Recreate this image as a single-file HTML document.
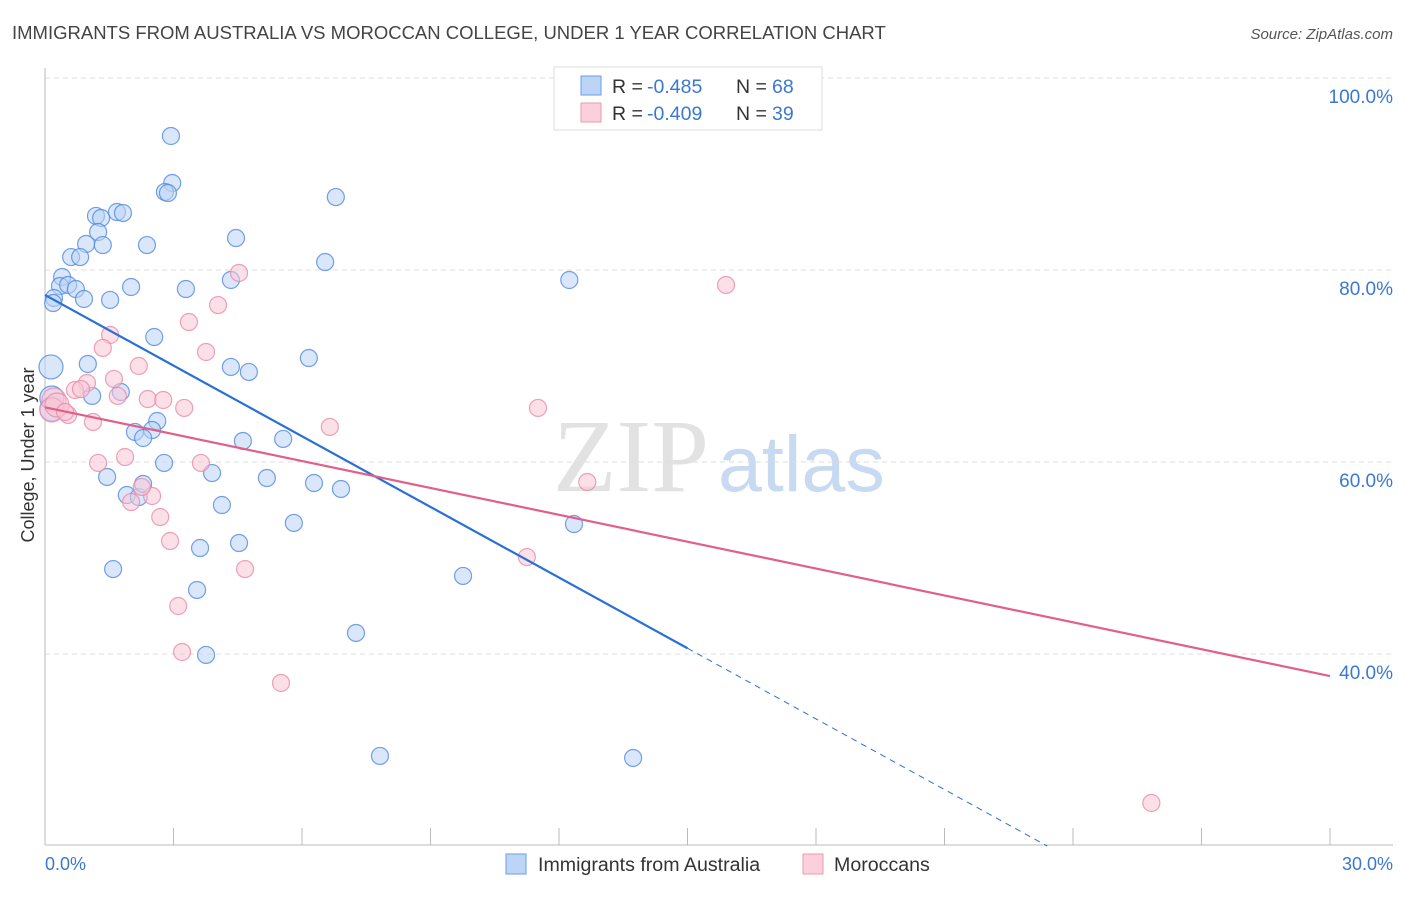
<!DOCTYPE html>
<html><head><meta charset="utf-8"><style>
body{margin:0;background:#fff;font-family:"Liberation Sans",sans-serif;}
svg text{font-family:"Liberation Sans",sans-serif;}
</style></head><body>
<svg id="chart" width="1406" height="892">
<text x="12" y="39" font-size="18.5" fill="#444">IMMIGRANTS FROM AUSTRALIA VS MOROCCAN COLLEGE, UNDER 1 YEAR CORRELATION CHART</text>
<text x="1393" y="39" font-size="15" fill="#555" font-style="italic" text-anchor="end">Source: ZipAtlas.com</text>
<text x="553" y="491" font-size="104" fill="#e2e2e2" style="font-family:'Liberation Serif',serif">ZIP</text>
<text x="718" y="491" font-size="79" fill="#c8daf2">atlas</text>
<g id="grid"></g>
<g id="axes"></g>
<g id="pts"></g>
<g id="lines"></g>
<text x="34" y="455" font-size="18" fill="#333" text-anchor="middle" transform="rotate(-90 34 455)">College, Under 1 year</text>
<text x="45" y="870" font-size="18" fill="#3a78d4">0.0%</text>
<text x="1393" y="870" font-size="18" fill="#3a78d4" text-anchor="end">30.0%</text>
<g>
<rect x="554" y="67" width="268" height="63" fill="#fff" stroke="#ddd"/>
<rect x="581" y="76" width="20" height="19" fill="#bcd4f5" stroke="#6a9ee6"/>
<rect x="581" y="103" width="20" height="19" fill="#fbcfdc" stroke="#ee99b4"/>
<text x="612" y="93" font-size="19.5" fill="#333">R =</text>
<text x="647" y="93" font-size="19.5" fill="#3a78d4">-0.485</text>
<text x="736" y="93" font-size="19.5" fill="#333">N =</text>
<text x="772" y="93" font-size="19.5" fill="#3a78d4">68</text>
<text x="612" y="120" font-size="19.5" fill="#333">R =</text>
<text x="647" y="120" font-size="19.5" fill="#3a78d4">-0.409</text>
<text x="736" y="120" font-size="19.5" fill="#333">N =</text>
<text x="772" y="120" font-size="19.5" fill="#3a78d4">39</text>
</g>
<g>
<rect x="506" y="854" width="20" height="20" fill="#bcd4f5" stroke="#6a9ee6"/>
<text x="538" y="871" font-size="19.6" fill="#333">Immigrants from Australia</text>
<rect x="803" y="854" width="20" height="20" fill="#fbcfdc" stroke="#ee99b4"/>
<text x="834" y="871" font-size="19.6" fill="#333">Moroccans</text>
</g>
</svg>
<script>
const blueX=[2.94,2.97,2.80,2.87,6.79,1.19,1.31,1.68,1.82,1.24,0.96,1.35,2.38,4.46,0.61,0.82,6.54,0.40,0.35,0.54,0.72,4.34,2.01,3.29,12.24,0.21,0.91,1.52,0.19,2.55,6.16,1.00,0.14,4.34,4.76,1.77,1.10,2.62,2.10,2.50,2.29,4.62,5.56,2.78,1.45,3.90,5.18,1.91,2.19,2.29,6.28,6.91,4.13,5.81,12.35,4.53,3.62,1.59,9.76,3.55,7.26,3.76,7.82,13.73,0.16,0.16];
const blueY=[93.96,89.06,88.13,88.02,87.60,85.63,85.42,86.04,85.94,83.96,82.71,82.60,82.60,83.33,81.35,81.35,80.83,79.27,78.33,78.44,78.02,78.96,78.23,78.02,78.96,77.08,76.98,76.88,76.56,73.02,70.83,70.21,69.90,69.90,69.38,67.29,66.88,64.27,63.13,63.33,62.50,62.19,62.40,59.90,58.44,58.85,58.33,56.56,56.35,57.71,57.81,57.19,55.52,53.65,53.54,51.56,51.04,48.85,48.13,46.67,42.19,39.90,29.38,29.17,65.52,66.67];
const pinkX=[4.53,15.90,4.04,3.36,1.52,1.35,3.76,2.19,0.98,1.61,0.70,0.84,1.70,2.40,2.76,3.25,11.51,0.21,0.16,0.54,1.12,6.65,1.24,1.87,3.64,2.50,2.01,2.26,2.69,2.92,12.66,11.25,4.67,3.11,3.20,5.51,25.83,0.28,0.47];
const pinkY=[79.69,78.44,76.35,74.58,73.23,71.88,71.46,70.00,68.23,68.65,67.50,67.60,66.88,66.56,66.46,65.63,65.63,66.46,65.42,64.90,64.17,63.65,59.90,60.52,59.90,56.46,55.83,57.40,54.27,51.77,57.92,50.10,48.85,45.00,40.21,36.98,24.48,65.94,65.21];
const yTicks=[100,80,60,40];
const yTickLabels=["100.0%","80.0%","60.0%","40.0%"];
const xTicks=[0,3,6,9,12,15,18,21,24,27,30];
const blueTrend=[77.4,40.6]; // at x=0 and x=15
const pinkTrend=[65.7,37.7]; // at x=0 and x=30
const sx=v=>45+v*1285/30;
const sy=v=>78+(100-v)*9.6;
const NS="http://www.w3.org/2000/svg";
function mk(tag,attrs,parent){const e=document.createElementNS(NS,tag);for(const k in attrs)e.setAttribute(k,attrs[k]);parent.appendChild(e);return e;}
const grid=document.getElementById('grid'),axes=document.getElementById('axes'),pts=document.getElementById('pts'),lines=document.getElementById('lines');
yTicks.forEach((t,i)=>{
 const l=mk('line',{x1:45,x2:1393,y1:sy(t),y2:sy(t),stroke:'#ddd','stroke-dasharray':'5,4'},grid);
 
 
 const tx=mk('text',{x:1393,y:sy(t)+25,'font-size':19,fill:'#3a78d4','text-anchor':'end'},grid);
 tx.textContent=yTickLabels[i];
 
 
});
const ya=mk('line',{x1:45,x2:45,y1:68,y2:845,stroke:'#bbb'},axes);


const xa=mk('line',{x1:45,x2:1393,y1:845,y2:845,stroke:'#bbb'},axes);


xTicks.forEach(t=>{
 const l=mk('line',{x1:sx(t),x2:sx(t),y1:828,y2:845,stroke:'#bbb'},axes);
 
 
});
function dots(X,Y,fill,stroke,name){
 X.forEach((x,i)=>{
  const big=(x<0.3&&Y[i]>64&&Y[i]<71);
  const c=mk('circle',{cx:sx(x),cy:sy(Y[i]),r:big?12:8.5,fill:fill,'fill-opacity':0.55,stroke:stroke,'stroke-width':1.2,'stroke-opacity':0.8},pts);
  
  
 });
}
dots(blueX,blueY,'#bcd4f5','#4f8ae0','point-australia');
dots(pinkX,pinkY,'#f9c6d5','#ea8aa9','point-moroccans');
const slope=(blueTrend[1]-blueTrend[0])/15;
const bl=mk('line',{x1:sx(0),y1:sy(blueTrend[0]),x2:sx(15),y2:sy(blueTrend[1]),stroke:'#2a6fd6','stroke-width':2.2},lines);


const xEnd=15+(20-blueTrend[1])/slope;
const bd=mk('line',{x1:sx(15),y1:sy(blueTrend[1]),x2:sx(xEnd),y2:sy(20),stroke:'#2a6fd6','stroke-width':1,'stroke-dasharray':'6,5'},lines);


const pl=mk('line',{x1:sx(0),y1:sy(pinkTrend[0]),x2:sx(30),y2:sy(pinkTrend[1]),stroke:'#e0608a','stroke-width':2.2},lines);


</script>
</body></html>
